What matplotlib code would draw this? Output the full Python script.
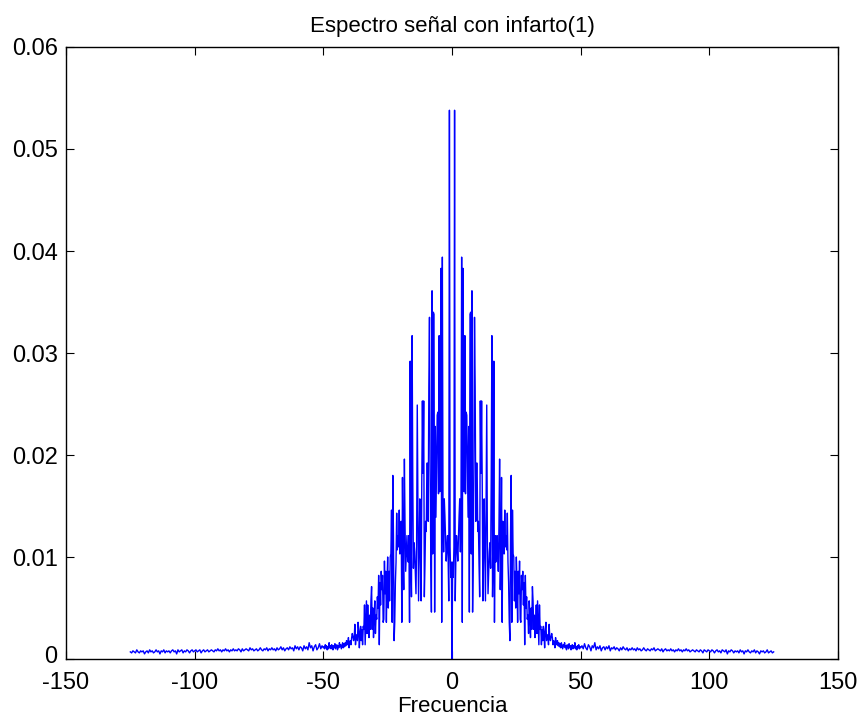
import numpy as np
import matplotlib
matplotlib.use("Agg")
import matplotlib.pyplot as plt
import matplotlib.transforms as mtransforms

# Positive-frequency magnitude, 0 .. 50 Hz in 0.25 Hz steps
mag_core = [
    0.0000, 0.0095, 0.0080, 0.0110, 0.0538, 0.0057, 0.0098, 0.0121, 0.0110, 0.0096,
    0.0118, 0.0140, 0.0157, 0.0105, 0.0150, 0.0394, 0.0036, 0.0383, 0.0250, 0.0164,
    0.0317, 0.0162, 0.0242, 0.0239, 0.0190, 0.0139, 0.0228, 0.0046, 0.0338, 0.0340,
    0.0103, 0.0361, 0.0046, 0.0103, 0.0192, 0.0335, 0.0267, 0.0135, 0.0192, 0.0192,
    0.0125, 0.0135, 0.0093, 0.0061, 0.0253, 0.0182, 0.0253, 0.0171, 0.0057, 0.0100,
    0.0157, 0.0107, 0.0057, 0.0150, 0.0249, 0.0114, 0.0064, 0.0086, 0.0105, 0.0114,
    0.0089, 0.0180, 0.0317, 0.0061, 0.0100, 0.0292, 0.0036, 0.0121, 0.0095, 0.0100,
    0.0121, 0.0105, 0.0086, 0.0130, 0.0196, 0.0068, 0.0103, 0.0178, 0.0036, 0.0135,
    0.0115, 0.0103, 0.0146, 0.0110, 0.0121, 0.0107, 0.0143, 0.0095, 0.0075, 0.0036,
    0.0018, 0.0121, 0.0180, 0.0036, 0.0146, 0.0103, 0.0100, 0.0057, 0.0086, 0.0050,
    0.0100, 0.0075, 0.0036, 0.0086, 0.0064, 0.0096, 0.0039, 0.0036, 0.0082, 0.0068,
    0.0086, 0.0053, 0.0075, 0.0014, 0.0082, 0.0050, 0.0061, 0.0039, 0.0043, 0.0025,
    0.0057, 0.0043, 0.0021, 0.0050, 0.0029, 0.0071, 0.0057, 0.0029, 0.0043, 0.0021,
    0.0032, 0.0053, 0.0025, 0.0057, 0.0036, 0.0014, 0.0053, 0.0029, 0.0032, 0.0014,
    0.0029, 0.0018, 0.0032, 0.0025, 0.0011, 0.0029, 0.0036, 0.0018, 0.0021, 0.0024,
    0.0014, 0.0034, 0.0021, 0.0018, 0.0022, 0.0025, 0.0021, 0.0014, 0.0018, 0.0016,
    0.0011, 0.0021, 0.0014, 0.0017, 0.0018, 0.0013, 0.0016, 0.0012, 0.0015, 0.0011,
    0.0016, 0.0013, 0.0010, 0.0014, 0.0012, 0.0016, 0.0011, 0.0013, 0.0009, 0.0014,
    0.0012, 0.0010, 0.0015, 0.0011, 0.0013, 0.0009, 0.0012, 0.0014, 0.0010, 0.0013,
    0.0011, 0.0016, 0.0010, 0.0012, 0.0009, 0.0013, 0.0011, 0.0014, 0.0010, 0.0012,
    0.0011,
]
core_step = 0.25

# Positive-frequency tail, 50.5 .. 125 Hz in 0.5 Hz steps
mag_tail = [
    0.0013, 0.0010, 0.0015, 0.0011, 0.0009, 0.0014, 0.0012, 0.0008, 0.0013, 0.0011,
    0.0016, 0.0009, 0.0012, 0.0010, 0.0013, 0.0008, 0.0011, 0.0012, 0.0009, 0.0012,
    0.0010, 0.0013, 0.0008, 0.0011, 0.0010, 0.0012, 0.0009, 0.0011, 0.0010, 0.0008,
    0.0011, 0.0009, 0.0012, 0.0010, 0.0009, 0.0011, 0.0008, 0.0010, 0.0009, 0.0011,
    0.0009, 0.0010, 0.0008, 0.0011, 0.0009, 0.0010, 0.0008, 0.0009, 0.0011, 0.0009,
    0.0008, 0.0010, 0.0009, 0.0008, 0.0010, 0.0009, 0.0011, 0.0008, 0.0009, 0.0010,
    0.0009, 0.0008, 0.0010, 0.0007, 0.0009, 0.0010, 0.0008, 0.0009, 0.0008, 0.0010,
    0.0008, 0.0009, 0.0007, 0.0009, 0.0008, 0.0010, 0.0008, 0.0009, 0.0007, 0.0009,
    0.0008, 0.0010, 0.0008, 0.0009, 0.0007, 0.0008, 0.0009, 0.0008, 0.0007, 0.0009,
    0.0008, 0.0007, 0.0009, 0.0008, 0.0006, 0.0009, 0.0008, 0.0007, 0.0009, 0.0008,
    0.0007, 0.0009, 0.0008, 0.0006, 0.0008, 0.0009, 0.0007, 0.0008, 0.0006, 0.0009,
    0.0008, 0.0007, 0.0009, 0.0005, 0.0008, 0.0007, 0.0009, 0.0008, 0.0006, 0.0008,
    0.0007, 0.0008, 0.0006, 0.0009, 0.0007, 0.0008, 0.0005, 0.0008, 0.0007, 0.0009,
    0.0007, 0.0006, 0.0008, 0.0007, 0.0009, 0.0006, 0.0008, 0.0007, 0.0005, 0.0008,
    0.0007, 0.0008, 0.0006, 0.0007, 0.0009, 0.0006, 0.0007, 0.0008, 0.0006, 0.0007,
]
tail_start = 50.5
tail_step = 0.5

x_ticks = [-150, -100, -50, 0, 50, 100, 150]
y_ticks = [0, 0.01, 0.02, 0.03, 0.04, 0.05, 0.06]
y_tick_labels = ["0", "0.01", "0.02", "0.03", "0.04", "0.05", "0.06"]
title_text = "Espectro señal con infarto(1)"
xlabel_text = "Frecuencia"

# Build the two-sided (symmetric) magnitude spectrum of a real signal
f_core = np.arange(len(mag_core)) * core_step
f_tail = tail_start + np.arange(len(mag_tail)) * tail_step
f_pos = np.concatenate([f_core, f_tail])
m_pos = np.concatenate([mag_core, mag_tail])
freq = np.concatenate([-f_pos[:0:-1], f_pos])
mag = np.concatenate([m_pos[:0:-1], m_pos])

plt.rcParams["font.family"] = ["Liberation Sans", "DejaVu Sans"]

fig = plt.figure(figsize=(8.64, 7.23), dpi=100)
ax = fig.add_axes([0.0764, 0.0885, 0.8935, 0.8465])
ax.plot(freq, mag, color=(0, 0, 1), linewidth=1.0)

ax.set_xlim(-150, 150)
ax.set_ylim(0, 0.06)
ax.set_xticks(x_ticks)
ax.set_xticklabels([str(t) for t in x_ticks])
ax.set_yticks(y_ticks)
ax.set_yticklabels(y_tick_labels)
ax.tick_params(direction="in", length=6, width=0.8, top=True, right=True,
               labelsize=17)
ax.tick_params(axis="x", pad=9)
ax.tick_params(axis="y", pad=6)
for s in ax.spines.values():
    s.set_linewidth(1.0)
    s.set_color("black")

# nudge the "0" y label up slightly so it clears the "-150" x label
ylab0 = ax.get_yticklabels()[0]
ylab0.set_transform(ylab0.get_transform() +
                    mtransforms.ScaledTranslation(0, 3 / 72, fig.dpi_scale_trans))

ax.set_title(title_text, fontsize=16, pad=11)
ax.set_xlabel(xlabel_text, fontsize=16, labelpad=2)

fig.savefig("out.png", dpi=100)
